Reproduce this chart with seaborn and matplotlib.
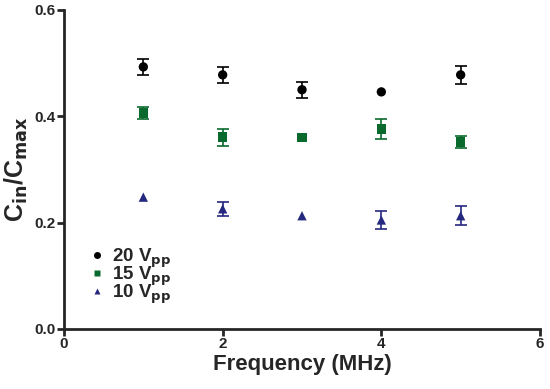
import pandas as pd
import matplotlib
matplotlib.use('Agg')
import matplotlib.pyplot as plt
import seaborn as sns

# Data
freq = [1, 2, 3, 4, 5]
v20 = [0.493, 0.478, 0.450, 0.446, 0.478]
v20_err = [0.015, 0.015, 0.015, 0.0, 0.017]
v15 = [0.406, 0.361, 0.360, 0.376, 0.352]
v15_err = [0.011, 0.016, 0.0, 0.019, 0.011]
v10 = [0.248, 0.226, 0.213, 0.205, 0.213]
v10_err = [0.0, 0.013, 0.0, 0.017, 0.018]
series = ['20 V$_{\\mathbf{pp}}$', '15 V$_{\\mathbf{pp}}$', '10 V$_{\\mathbf{pp}}$']
colors = ['#000000', '#0a6a2e', '#25287f']
markers = ['o', 's', '^']

rows = []
for name, vals, errs in zip(series, [v20, v15, v10], [v20_err, v15_err, v10_err]):
    for f, v, e in zip(freq, vals, errs):
        rows.append({'freq': f, 'ratio': v, 'err': e, 'series': name})
df = pd.DataFrame(rows)

sns.set_style('ticks')
plt.rcParams['font.family'] = ['Liberation Sans', 'DejaVu Sans']
plt.rcParams['font.weight'] = 'bold'
plt.rcParams['mathtext.default'] = 'bf'

fig = plt.figure(figsize=(5.5, 3.89), dpi=100)
ax = fig.add_axes([64 / 550, 60 / 389, 476 / 550, 319 / 389])

# error bars only where a spread is visible
for name, c in zip(series, colors):
    d = df[(df['series'] == name) & (df['err'] > 0)]
    ax.errorbar(d['freq'], d['ratio'], yerr=d['err'], fmt='none', ecolor=c,
                elinewidth=1.2, capsize=4, capthick=1.2, zorder=2)

sns.scatterplot(data=df, x='freq', y='ratio', hue='series', style='series',
                palette=colors, markers=markers, s=45, edgecolor='none',
                ax=ax, zorder=3)

ax.set_xlim(0, 6)
ax.set_ylim(0, 0.6)
ax.set_xticks([0, 2, 4, 6])
ax.set_yticks([0.0, 0.2, 0.4, 0.6])
ax.set_yticklabels(['0.0', '0.2', '0.4', '0.6'])
ax.tick_params(width=2, length=5, labelsize=11, pad=1)
for lab in ax.get_xticklabels() + ax.get_yticklabels():
    lab.set_fontweight('bold')
for s in ['left', 'bottom']:
    ax.spines[s].set_linewidth(2)
sns.despine(ax=ax)

ax.set_xlabel('Frequency (MHz)', fontsize=16, fontweight='bold', labelpad=2)
ax.set_ylabel('C$_{\\mathbf{in}}$/C$_{\\mathbf{max}}$', fontsize=18,
              fontweight='bold', labelpad=3)

leg = ax.legend(loc='lower left', bbox_to_anchor=(0.01, 0.02), frameon=False,
                fontsize=13.5, handletextpad=0.2, handlelength=1.2,
                labelspacing=-0.3, markerscale=0.75)
for t in leg.get_texts():
    t.set_fontweight('bold')

fig.savefig('out.png', dpi=100)
